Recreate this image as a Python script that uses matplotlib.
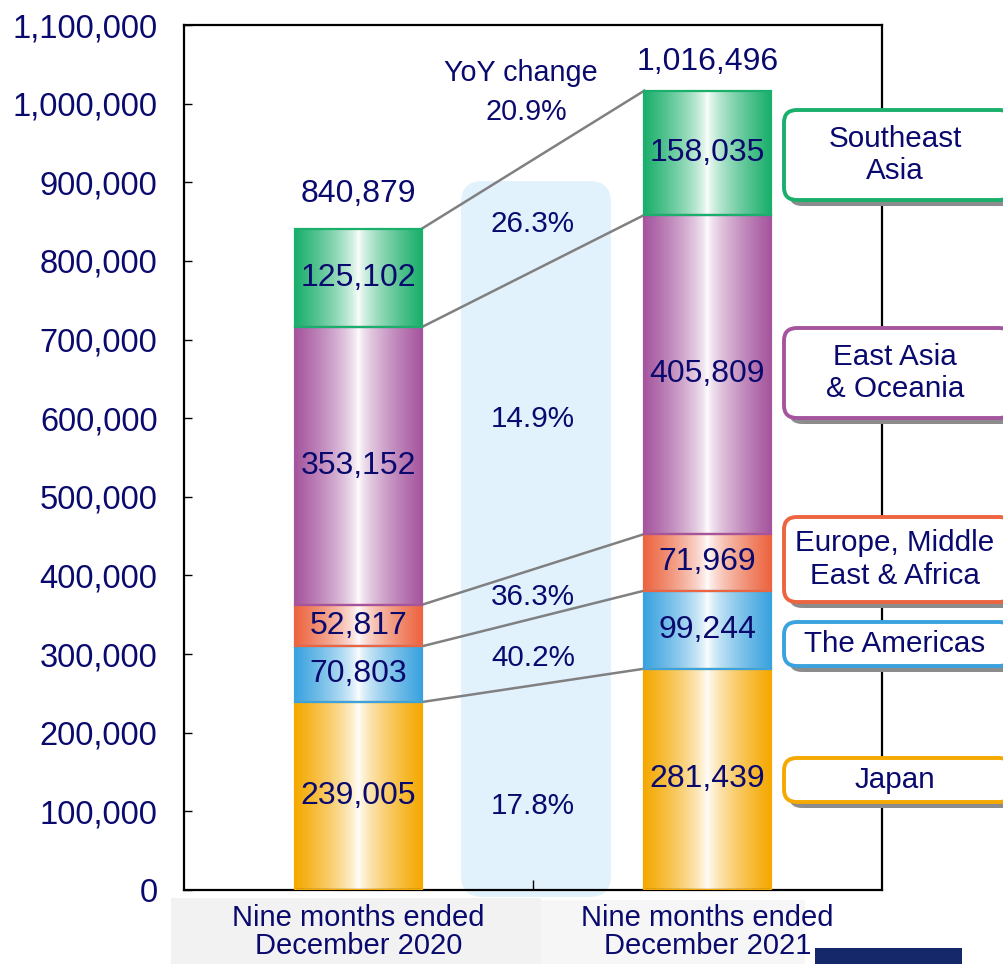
"""Nine-month revenue by region, stacked bars with YoY change."""
import numpy as np
import matplotlib.pyplot as plt
from matplotlib.colors import to_rgb
from matplotlib.patches import FancyBboxPatch, Rectangle

plt.rcParams["font.family"] = ["Liberation Sans", "DejaVu Sans"]

NAVY = "#0a0a6e"

periods = ["Nine months ended\nDecember 2020", "Nine months ended\nDecember 2021"]
regions = ["Japan", "The Americas", "Europe, Middle\nEast & Africa",
           "East Asia\n& Oceania", "Southeast\nAsia"]
colors = ["#F5A800", "#3AA3DF", "#EC6540", "#A5559E", "#1AAF6B"]
values_2020 = [239005, 70803, 52817, 353152, 125102]
values_2021 = [281439, 99244, 71969, 405809, 158035]
totals = [840879, 1016496]
yoy_by_region = ["17.8%", "40.2%", "36.3%", "14.9%", "26.3%"]
yoy_total = "20.9%"
yoy_label_y = [107000, 295000, 373000, 599000, 847000]

W, H = 1004, 964
fig = plt.figure(figsize=(W / 100, H / 100), dpi=100)
ax = fig.add_axes([184 / W, 1 - 890 / H, (882 - 184) / W, (890 - 25) / H])


def px_box(x0, y0, x1, y1, **kw):
    # rounded box given in pixel coords measured from the top-left corner
    return FancyBboxPatch((x0 / W, 1 - y1 / H), (x1 - x0) / W, (y1 - y0) / H,
                          transform=fig.transFigure, **kw)


def gradient(c, n=200):
    u = np.linspace(0, 1, n)
    t = np.abs(2 * u - 1) ** 0.7
    rgb = np.array(to_rgb(c))
    img = (1 - t)[:, None] * np.ones(3) + t[:, None] * rgb
    return img[None, :, :]


bar_w = 0.362
total_offsets = [44000, 37000]
for xi, vals in enumerate([values_2020, values_2021]):
    bottom = 0
    for v, c in zip(vals, colors):
        ax.imshow(gradient(c), extent=(xi - bar_w / 2, xi + bar_w / 2, bottom, bottom + v),
                  aspect="auto", zorder=2, interpolation="bilinear")
        ax.bar(xi, v, bar_w, bottom=bottom, facecolor="none", edgecolor=c,
               linewidth=1.6, zorder=3)
        ax.text(xi, bottom + v / 2, f"{v:,}", ha="center", va="center",
                fontsize=23, color=NAVY, zorder=4)
        bottom += v
    ax.text(xi, totals[xi] + total_offsets[xi], f"{totals[xi]:,}", ha="center",
            va="center", fontsize=23, color=NAVY)

# connector lines between bar boundaries
cum0 = np.cumsum(values_2020)
cum1 = np.cumsum(values_2021)
for a, b in zip(cum0, cum1):
    ax.plot([bar_w / 2, 1 - bar_w / 2], [a, b], color="#808080", lw=1.8, zorder=1.5)

# YoY column
ax.add_patch(px_box(461, 181, 611, 897,
                    boxstyle="round,pad=0,rounding_size=0.022",
                    facecolor="#E1F2FD", edgecolor="none", zorder=1, clip_on=False))
for lab, y in zip(yoy_by_region, yoy_label_y):
    ax.text(0.5, y, lab, ha="center", va="center", fontsize=21.3, color=NAVY, zorder=4)
ax.text(0.465, 1039000, "YoY change", ha="center", va="center", fontsize=20.7, color=NAVY)
ax.text(0.48, 990000, yoy_total, ha="center", va="center", fontsize=20.7, color=NAVY)

ax.set_xlim(-0.5, 1.5)
ax.set_ylim(0, 1100000)
ax.set_yticks(np.arange(0, 1100001, 100000))
ax.yaxis.set_major_formatter(plt.FuncFormatter(lambda v, p: f"{int(v):,}"))
ax.tick_params(axis="y", direction="in", length=6, width=1, pad=19,
               labelsize=23.5, labelcolor=NAVY)
ax.set_xticks([0.5])
ax.set_xticklabels([""])
ax.set_xticks([0, 1], minor=True)
ax.set_xticklabels(periods, minor=True, fontsize=21, color=NAVY, linespacing=1.0)
ax.tick_params(axis="x", which="major", direction="in", length=7, width=1)
ax.tick_params(axis="x", which="minor", length=0, pad=10)
for s in ax.spines.values():
    s.set_linewidth(1.6)

# legend boxes on the right
legend_boxes = [(758, 802), (622, 666), (517, 602), (328, 418), (110, 200)]
for (y0, y1), name, c in zip(legend_boxes, regions, colors):
    fig.patches.append(px_box(789, y0 + 6, 1016, y1 + 6,
                              boxstyle="round,pad=0,rounding_size=0.013",
                              facecolor="#8c8c8c", edgecolor="none", zorder=5))
    fig.patches.append(px_box(784, y0, 1012, y1,
                              boxstyle="round,pad=0,rounding_size=0.013",
                              facecolor="white", edgecolor=c, linewidth=2.8, zorder=6))
    fig.text(895 / W, 1 - (y0 + y1) / 2 / H, name, ha="center", va="center",
             fontsize=21.3, color=NAVY, linespacing=1.22, zorder=7)

# background strip behind category labels and logo corner
fig.patches.append(Rectangle((171 / W, 0), (541 - 171) / W, (964 - 898) / H,
                             transform=fig.transFigure, facecolor="#f2f2f2",
                             edgecolor="none", zorder=-1))
fig.patches.append(Rectangle((541 / W, 0), (805 - 541) / W, (964 - 900) / H,
                             transform=fig.transFigure, facecolor="#f6f6f6",
                             edgecolor="none", zorder=-1))
fig.patches.append(Rectangle((815 / W, 0), (962 - 815) / W, 16 / H,
                             transform=fig.transFigure, facecolor="#14286a",
                             edgecolor="none", zorder=5))

fig.savefig("out.png", dpi=100)
